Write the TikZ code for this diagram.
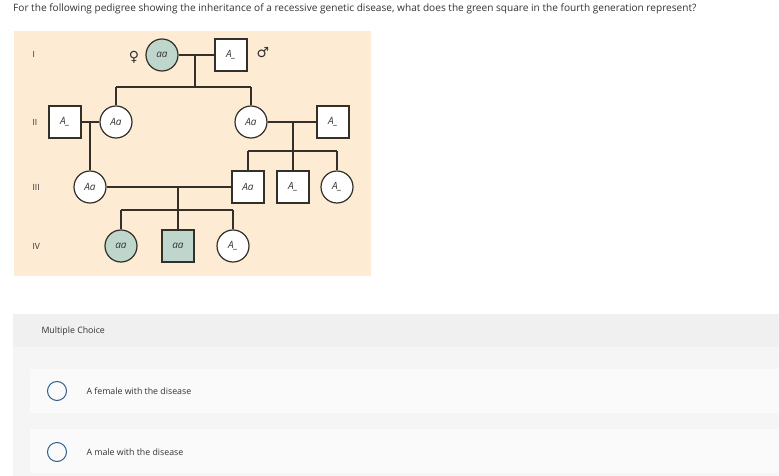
\documentclass[tikz,border=0pt]{standalone}
\usepackage{fontspec}
\setmainfont{Open Sans}
\newfontfamily\symfont{DejaVu Sans}
\definecolor{peach}{HTML}{FDEBD3}
\definecolor{greenC}{HTML}{BED6CB}
\definecolor{lineC}{HTML}{33302A}
\definecolor{txtC}{HTML}{333333}
\definecolor{bandC}{HTML}{F0F0F0}
\definecolor{panelC}{HTML}{F5F5F5}
\definecolor{optC}{HTML}{FAFAFA}
\definecolor{radioC}{HTML}{2E5E8E}
\begin{document}
\begin{tikzpicture}[x=1pt,y=-1pt,
  person/.style={draw=lineC, line width=1.2pt, fill=white, inner sep=0pt, text=txtC,
    font=\itshape\fontsize{10}{12}\selectfont},
  fem/.style={person, circle, minimum size=32pt},
  mal/.style={person, rectangle, minimum size=32pt},
  aff/.style={fill=greenC},
  conn/.style={draw=lineC, line width=1.3pt},
  gen/.style={anchor=west, text=txtC, font=\fontsize{8.5}{10}\selectfont},
  ui/.style={anchor=west, text=txtC, font=\fontsize{8.8}{10}\selectfont},
  radio/.style={circle, draw=radioC, line width=1pt, minimum size=19pt, inner sep=0pt}
]
\useasboundingbox (0,0) rectangle (779,476);
\fill[white] (0,0) rectangle (779,476);
\fill[peach] (14,31) rectangle (371,276);
\fill[bandC] (13,314) rectangle (779,347);
\fill[panelC] (13,347) rectangle (779,476);
\fill[optC] (30,369) rectangle (779,413);
\fill[optC] (30,429) rectangle (779,473);

% question
\node[anchor=west, text=txtC, font=\fontsize{10.1}{12}\selectfont, inner sep=0pt] (q) at (13,9)
  {For the following pedigree showing the inheritance of a recessive genetic disease, what does the green square in the fourth generation represent?};

% generation labels
\node[gen] (g1) at (29,54) {I};
\node[gen] (g2) at (29,122) {II};
\node[gen] (g3) at (29,187) {III};
\node[gen] (g4) at (29,246) {IV};

% generation I
\node[fem, aff] (c1) at (162,55) {aa};
\node[mal] (s1) at (231,55) {A\_};
\node[text=txtC, font=\symfont\fontsize{14}{16}\selectfont, inner sep=0pt] (fsym) at (134,57) {♀};
\node[text=txtC, font=\symfont\fontsize{14}{16}\selectfont, inner sep=0pt] (msym) at (263,53) {♂};

% generation II
\node[mal] (s2a) at (65,122) {A\_};
\node[fem] (c2a) at (116,122) {Aa};
\node[fem] (c2b) at (251,122) {Aa};
\node[mal] (s2b) at (333,122) {A\_};

% generation III
\node[fem] (c3a) at (90,187) {Aa};
\node[mal] (s3a) at (248,187) {Aa};
\node[mal] (s3b) at (293,187) {A\_};
\node[fem] (c3b) at (337,187) {A\_};

% generation IV
\node[fem, aff] (c4a) at (121,246) {aa};
\node[mal, aff] (s4) at (178,246) {aa};
\node[fem] (c4b) at (233,246) {A\_};

% connectors
\coordinate (m1) at (195,55);
\coordinate (k1) at (195,87);
\coordinate (k1l) at (116,87);
\coordinate (k1r) at (251,87);
\draw[conn] (c1) -- (s1);
\draw[conn] (m1) -- (k1);
\draw[conn] (k1l) -- (k1r);
\draw[conn] (k1l) -- (c2a);
\draw[conn] (k1r) -- (c2b);

\coordinate (m2) at (90,122);
\draw[conn] (s2a) -- (c2a);
\draw[conn] (m2) -- (c3a);

\coordinate (m3) at (293,122);
\coordinate (k3l) at (248,151);
\coordinate (k3r) at (337,151);
\draw[conn] (c2b) -- (s2b);
\draw[conn] (m3) -- (s3b);
\draw[conn] (k3l) -- (k3r);
\draw[conn] (k3l) -- (s3a);
\draw[conn] (k3r) -- (c3b);

\coordinate (m4) at (178,187);
\coordinate (k4) at (178,210);
\coordinate (k4l) at (121,210);
\coordinate (k4r) at (233,210);
\draw[conn] (c3a) -- (s3a);
\draw[conn] (m4) -- (k4);
\draw[conn] (k4l) -- (k4r);
\draw[conn] (k4l) -- (c4a);
\draw[conn] (k4) -- (s4);
\draw[conn] (k4r) -- (c4b);

% multiple choice
\node[ui] (mc) at (38,331) {Multiple Choice};
\node[radio] (r1) at (57,391) {};
\node[ui] (o1) at (83,391) {A female with the disease};
\node[radio] (r2) at (57,452) {};
\node[ui] (o2) at (83,452) {A male with the disease};
\end{tikzpicture}
\end{document}
